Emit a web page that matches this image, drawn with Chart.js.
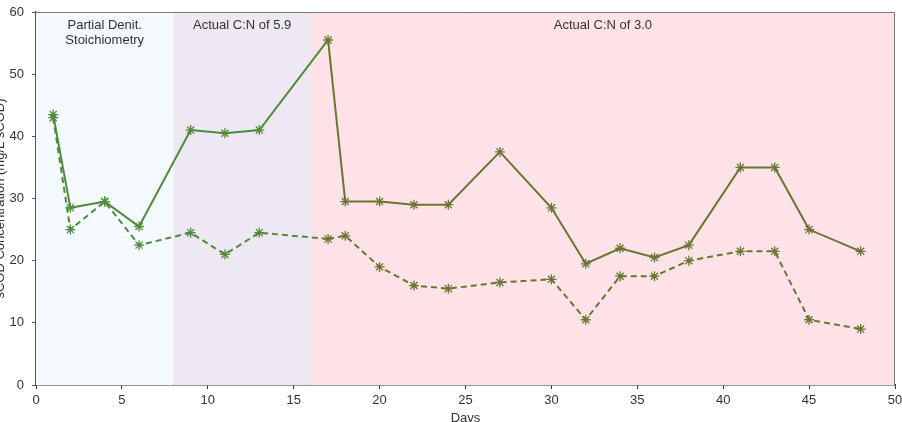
<!DOCTYPE html>
<html>
<head>
<meta charset="utf-8">
<script src="https://cdn.jsdelivr.net/npm/chart.js@4"></script>
<style>
  html, body { margin: 0; padding: 0; background: #ffffff; }
  #wrap { width: 902px; height: 422px; position: relative; }
</style>
</head>
<body>
<div id="wrap"><canvas id="c" width="902" height="422"></canvas></div>
<script>
// ---- Data ----
const days = [1, 2, 4, 6, 9, 11, 13, 17, 18, 20, 22, 24, 27, 30, 32, 34, 36, 38, 41, 43, 45, 48];
const solidSeries = [43.5, 28.5, 29.5, 25.5, 41, 40.5, 41, 55.5, 29.5, 29.5, 29, 29, 37.5, 28.5, 19.5, 22, 20.5, 22.5, 35, 35, 25, 21.5];
const dashedSeries = [43, 25, 29.5, 22.5, 24.5, 21, 24.5, 23.5, 24, 19, 16, 15.5, 16.5, 17, 10.5, 17.5, 17.5, 20, 21.5, 21.5, 10.5, 9];

const bandStarts = [0, 8, 16];
const bandEnds = [8, 16, 50];
const bandLabels = [["Partial Denit.", "Stoichiometry"], ["Actual C:N of 5.9"], ["Actual C:N of 3.0"]];
const bandColors = ["#f3f9fc", "#eee8f3", "#fde3e7"];

const xTitle = "Days";
const yTitle = "sCOD Concentration (mg/L sCOD)";

const GREEN = "#4f8b3b";
const OLIVE = "#6a7532";
function segColor(ctx) { return ctx.p0.parsed.x >= 16 ? OLIVE : GREEN; }
function ptColor(ctx) {
  const v = ctx.raw;
  return (v && v.x >= 16) ? OLIVE : GREEN;
}

const toPts = (ys) => days.map((d, i) => ({ x: d, y: ys[i] }));

const bandsPlugin = {
  id: 'bands',
  beforeDatasetsDraw(chart) {
    const { ctx, chartArea, scales } = chart;
    const xs = scales.x;
    ctx.save();
    for (let i = 0; i < bandStarts.length; i++) {
      const x0 = xs.getPixelForValue(bandStarts[i]);
      const x1 = xs.getPixelForValue(bandEnds[i]);
      ctx.fillStyle = bandColors[i];
      ctx.fillRect(x0, chartArea.top, x1 - x0, chartArea.bottom - chartArea.top);
    }
    ctx.fillStyle = "#333333";
    ctx.font = "13px 'Liberation Sans', Arial, sans-serif";
    ctx.textAlign = "center";
    ctx.textBaseline = "middle";
    for (let i = 0; i < bandStarts.length; i++) {
      const cx = (xs.getPixelForValue(bandStarts[i]) + xs.getPixelForValue(bandEnds[i])) / 2;
      bandLabels[i].forEach((t, j) => ctx.fillText(t, cx, chartArea.top + 13 + j * 15));
    }
    // top and right frame
    ctx.strokeStyle = "#7a7a7a";
    ctx.lineWidth = 1;
    ctx.beginPath();
    ctx.moveTo(chartArea.left, chartArea.top + 0.5);
    ctx.lineTo(chartArea.right - 0.5, chartArea.top + 0.5);
    ctx.lineTo(chartArea.right - 0.5, chartArea.bottom);
    ctx.stroke();
    ctx.restore();
  },
  afterDraw(chart) {
    const { ctx, chartArea } = chart;
    ctx.save();
    ctx.fillStyle = "#333333";
    ctx.font = "13px 'Liberation Sans', Arial, sans-serif";
    ctx.textAlign = "center";
    ctx.textBaseline = "middle";
    ctx.fillText(xTitle, (chartArea.left + chartArea.right) / 2, 418);
    ctx.translate(0, (chartArea.top + chartArea.bottom) / 2);
    ctx.rotate(-Math.PI / 2);
    ctx.fillText(yTitle, 0, 0);
    ctx.restore();
  }
};

new Chart(document.getElementById('c'), {
  type: 'line',
  data: {
    datasets: [
      {
        data: toPts(solidSeries),
        borderWidth: 2,
        segment: { borderColor: segColor },
        borderColor: GREEN,
        pointStyle: 'star',
        pointRadius: 5,
        pointBorderWidth: 1.3,
        pointBorderColor: ptColor,
        pointBackgroundColor: ptColor,
        tension: 0,
        fill: false
      },
      {
        data: toPts(dashedSeries),
        borderWidth: 2,
        borderDash: [6, 4],
        segment: { borderColor: segColor },
        borderColor: GREEN,
        pointStyle: 'star',
        pointRadius: 5,
        pointBorderWidth: 1.3,
        pointBorderColor: ptColor,
        pointBackgroundColor: ptColor,
        tension: 0,
        fill: false
      }
    ]
  },
  options: {
    responsive: false,
    animation: false,
    devicePixelRatio: 1,
    layout: { padding: { top: 12, right: 7, left: 0, bottom: 0 } },
    plugins: { legend: { display: false }, tooltip: { enabled: false } },
    scales: {
      x: {
        type: 'linear',
        min: 0, max: 50,
        ticks: { stepSize: 5, color: '#333333', padding: 4, maxRotation: 0,
                 font: { family: "'Liberation Sans', Arial, sans-serif", size: 13 } },
        grid: { drawOnChartArea: false, drawTicks: true, tickLength: 4, color: '#333333' },
        border: { color: '#333333', width: 1.5 },
        afterFit(s) { s.height = 37; s.paddingLeft = 0; s.paddingRight = 0; }
      },
      y: {
        min: 0, max: 60,
        ticks: { stepSize: 10, color: '#333333', padding: 8,
                 font: { family: "'Liberation Sans', Arial, sans-serif", size: 13 } },
        grid: { drawOnChartArea: false, drawTicks: true, tickLength: 4, color: '#555555' },
        border: { color: '#555555', width: 1.5 },
        afterFit(s) { s.width = 36; s.paddingTop = 0; s.paddingBottom = 0; }
      }
    }
  },
  plugins: [bandsPlugin]
});
</script>
</body>
</html>
